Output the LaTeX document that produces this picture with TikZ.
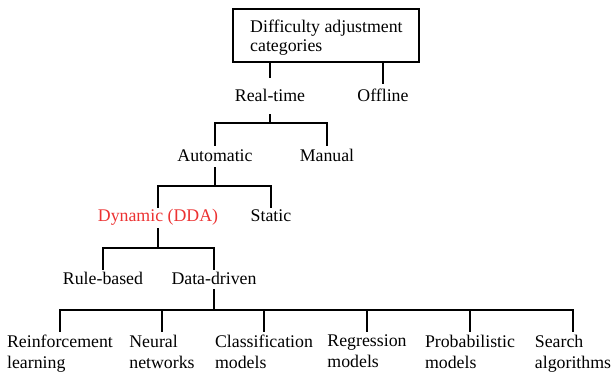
\documentclass[tikz,border=0pt]{standalone}
\usepackage{fontspec}
\setmainfont{Liberation Serif}
\definecolor{ddared}{RGB}{236,50,50}
\begin{document}
\begin{tikzpicture}[x=1pt,y=1pt,
  lbl/.style={inner sep=0pt, text height=12pt, text depth=4pt, anchor=base,
    font=\fontsize{17.8}{20.5}\selectfont},
  leaf/.style={inner sep=0pt, anchor=north, align=left,
    execute at begin node={\rule{0pt}{12.5pt}},
    font=\fontsize{17.8}{20.5}\selectfont},
  conn/.style={line width=1.7pt, line cap=rect}]
\useasboundingbox (0,0) rectangle (612,377);
% root box
\node[draw, line width=1.7pt, minimum width=186pt, minimum height=53pt,
  inner sep=0pt] (root) at (326,341.5) {};
\node[inner sep=0pt, anchor=north west, align=left,
  font=\fontsize{17.8}{18.5}\selectfont] (roottxt) at (250,357)
  {Difficulty adjustment\\categories};
% levels
\node[lbl] (rt) at (270,275) {Real-time};
\node[lbl] (off) at (383,275) {Offline};
\node[lbl] (au) at (215,215) {Automatic};
\node[lbl] (ma) at (327,215) {Manual};
\node[lbl, text=ddared] (dy) at (158,155) {Dynamic (DDA)};
\node[lbl] (st) at (271,155) {Static};
\node[lbl] (rb) at (103,92) {Rule-based};
\node[lbl] (dd) at (214,92) {Data-driven};
% leaves
\node[leaf] (b1) at (60,42) {Reinforcement\\learning};
\node[leaf] (b2) at (162,42) {Neural\\networks};
\node[leaf] (b3) at (264,42) {Classification\\models};
\node[leaf] (b4) at (367,42) {Regression\\models};
\node[leaf] (b5) at (470,42) {Probabilistic\\models};
\node[leaf] (b6) at (573,42) {Search\\algorithms};
% connectors
\draw[conn] (root.south -| rt) -- ([yshift=13pt]rt.north);
\draw[conn] (root.south -| off) -- ([yshift=7pt]off.north);
\foreach \c in {au,ma}
  \draw[conn] ([yshift=-9pt]rt.south) -- ++(0,-8pt) -| ([yshift=5pt]\c.north);
\foreach \c in {dy,st}
  \draw[conn] ([yshift=-2pt]au.south) -- ++(0,-18pt) -| ([yshift=3pt]\c.north);
\foreach \c in {rb,dd}
  \draw[conn] ([yshift=-3pt]dy.south) -- ++(0,-19pt) -| ([yshift=4pt]\c.north);
\foreach \c in {b1,b2,b3,b4,b5,b6}
  \draw[conn] ([yshift=-1pt]dd.south) -- ++(0,-20pt) -| ([yshift=4pt]\c.north);
\end{tikzpicture}
\end{document}
